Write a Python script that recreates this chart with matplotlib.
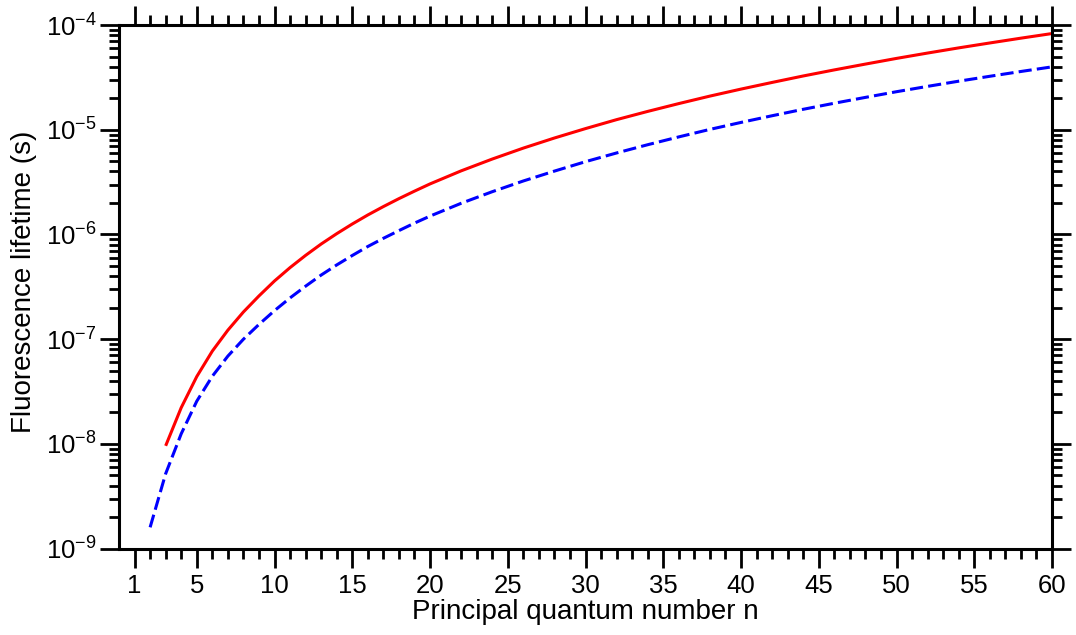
import numpy as np
import matplotlib
matplotlib.use('Agg')
import matplotlib.pyplot as plt
from matplotlib.ticker import FixedLocator, LogLocator, NullFormatter

plt.rcParams['font.family'] = ['Liberation Sans', 'DejaVu Sans']
plt.rcParams['mathtext.fontset'] = 'custom'
plt.rcParams['mathtext.rm'] = 'Liberation Sans'
plt.rcParams['mathtext.it'] = 'Liberation Sans:italic'
plt.rcParams['mathtext.bf'] = 'Liberation Sans:bold'

# values (lifetime in s vs n)
n_solid = [3, 4, 5, 6, 7, 8, 9, 10, 11, 12, 13, 14, 15, 16, 17, 18, 19, 20,
           22, 24, 26, 28, 30, 32, 34, 36, 38, 40, 42, 44, 46, 48, 50, 52, 54, 56, 58, 60]
tau_solid = [9.6e-9, 2.22e-8, 4.4e-8, 7.7e-8, 1.22e-7, 1.82e-7, 2.59e-7, 3.6e-7,
             4.83e-7, 6.32e-7, 8.11e-7, 1.018e-6, 1.259e-6, 1.536e-6, 1.847e-6,
             2.199e-6, 2.593e-6, 3.04e-6, 4.05e-6, 5.25e-6, 6.68e-6, 8.34e-6,
             1.026e-5, 1.249e-5, 1.497e-5, 1.778e-5, 2.096e-5, 2.445e-5, 2.83e-5,
             3.262e-5, 3.728e-5, 4.236e-5, 4.8e-5, 5.4e-5, 6.05e-5, 6.74e-5,
             7.49e-5, 8.29e-5]

n_dash = [2, 3, 4, 5, 6, 7, 8, 9, 10, 11, 12, 13, 14, 15, 16, 17, 18, 19, 20,
          22, 24, 26, 28, 30, 32, 34, 36, 38, 40, 42, 44, 46, 48, 50, 52, 54, 56, 58, 60]
tau_dash = [1.6e-9, 5.2e-9, 1.25e-8, 2.56e-8, 4.43e-8, 6.9e-8, 1.0e-7, 1.385e-7,
            1.875e-7, 2.48e-7, 3.21e-7, 4.1e-7, 5.12e-7, 6.3e-7, 7.68e-7, 9.19e-7,
            1.089e-6, 1.284e-6, 1.498e-6, 1.985e-6, 2.561e-6, 3.243e-6, 4.029e-6,
            4.957e-6, 6.005e-6, 7.197e-6, 8.548e-6, 1.008e-5, 1.175e-5, 1.361e-5,
            1.568e-5, 1.792e-5, 2.037e-5, 2.308e-5, 2.596e-5, 2.909e-5, 3.24e-5,
            3.601e-5, 3.986e-5]

x_major = [1, 5, 10, 15, 20, 25, 30, 35, 40, 45, 50, 55, 60]
x_minor = list(range(1, 61))

fig = plt.figure(figsize=(10.76, 6.35), dpi=100)
ax = fig.add_axes([0.1106, 0.1359, 0.8671, 0.8247])

ax.plot(n_solid, tau_solid, color='#ff0000', lw=2.2, solid_capstyle='butt')
ax.plot(n_dash, tau_dash, color='#0000ff', lw=2.2, ls=(0, (4.3, 1.7)))

ax.set_yscale('log')
ax.set_xlim(0, 60)
ax.set_ylim(1e-9, 1e-4)

ax.xaxis.set_major_locator(FixedLocator(x_major))
ax.xaxis.set_minor_locator(FixedLocator(x_minor))
ax.yaxis.set_major_locator(LogLocator(base=10, numticks=10))
ax.yaxis.set_minor_locator(LogLocator(base=10, subs=np.arange(2, 10), numticks=20))
ax.yaxis.set_minor_formatter(NullFormatter())

for s in ax.spines.values():
    s.set_linewidth(2.2)

ax.tick_params(which='both', direction='out', top=True, right=True,
               labeltop=False, labelright=False, width=2.0, colors='black')
ax.tick_params(which='major', length=14)
ax.tick_params(which='minor', length=7.2)
ax.tick_params(axis='x', which='major', labelsize=18.5, pad=4)
ax.tick_params(axis='y', which='major', labelsize=18.5, pad=2)

ax.set_xlabel('Principal quantum number n', fontsize=20, labelpad=1)
ax.set_ylabel('Fluorescence lifetime (s)', fontsize=20)
ax.yaxis.set_label_coords(-0.088, 0.51)

fig.savefig('out.png', dpi=100)
